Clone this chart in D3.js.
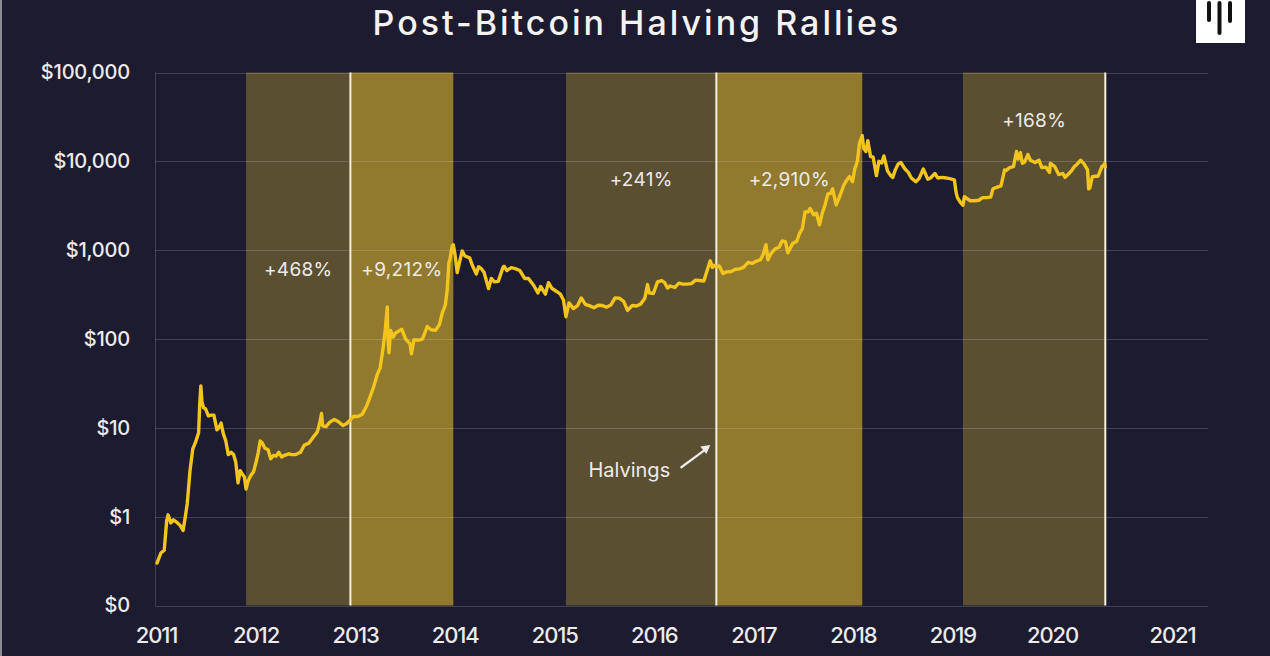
<!DOCTYPE html>
<html>
<head>
<meta charset="utf-8">
<script src="https://cdn.jsdelivr.net/npm/d3@7"></script>
<style>
html,body{margin:0;padding:0;background:#1d1b30;}
svg{display:block;}
</style>
</head>
<body>
<svg id="chart" width="1270" height="656"></svg>
<script>
// ---------- DATA ----------
const priceDates = [
"2011-01-01","2011-01-15","2011-01-27","2011-02-05","2011-02-10","2011-02-20","2011-03-01","2011-03-10","2011-03-25","2011-04-05","2011-04-12","2011-04-20","2011-04-30","2011-05-10","2011-05-20","2011-05-31","2011-06-04","2011-06-08","2011-06-12","2011-06-18","2011-06-25","2011-07-05","2011-07-15","2011-07-25","2011-08-05","2011-08-12","2011-08-20","2011-08-28","2011-09-06","2011-09-15","2011-09-25","2011-10-04","2011-10-12","2011-10-20","2011-10-28","2011-11-05","2011-11-12","2011-11-18","2011-11-25","2011-12-05","2011-12-15","2011-12-25",
"2012-01-01","2012-01-08","2012-01-15","2012-01-25","2012-02-05","2012-02-15","2012-02-25","2012-03-05","2012-03-15","2012-03-25","2012-04-05","2012-04-20","2012-05-01","2012-05-15","2012-06-01","2012-06-15","2012-07-01","2012-07-15","2012-08-01","2012-08-10","2012-08-16","2012-08-20","2012-09-01","2012-09-15","2012-10-01","2012-10-15","2012-11-01","2012-11-15","2012-11-28","2012-12-10","2012-12-25",
"2013-01-10","2013-01-25","2013-02-05","2013-02-20","2013-03-05","2013-03-15","2013-03-25","2013-04-03","2013-04-10","2013-04-12","2013-04-16","2013-04-22","2013-05-01","2013-05-10","2013-05-20","2013-06-01","2013-06-15","2013-07-01","2013-07-06","2013-07-15","2013-08-01","2013-08-15","2013-09-01","2013-09-15","2013-10-01","2013-10-15","2013-10-25","2013-11-05","2013-11-12","2013-11-18","2013-11-22","2013-11-30","2013-12-04","2013-12-10","2013-12-18","2013-12-25",
"2014-01-05","2014-01-15","2014-02-01","2014-02-10","2014-02-25","2014-03-05","2014-03-15","2014-03-25","2014-04-10","2014-04-20","2014-05-01","2014-05-15","2014-06-01","2014-06-05","2014-06-15","2014-07-01","2014-07-15","2014-08-01","2014-08-18","2014-09-01","2014-09-20","2014-10-05","2014-10-15","2014-11-01","2014-11-12","2014-11-25","2014-12-10","2014-12-25",
"2015-01-05","2015-01-14","2015-01-25","2015-02-10","2015-02-25","2015-03-10","2015-03-25","2015-04-10","2015-04-25","2015-05-10","2015-05-25","2015-06-10","2015-06-25","2015-07-10","2015-07-25","2015-08-10","2015-08-24","2015-09-10","2015-09-25","2015-10-10","2015-10-25","2015-11-04","2015-11-10","2015-11-25","2015-12-10","2015-12-25",
"2016-01-05","2016-01-15","2016-01-25","2016-02-10","2016-02-25","2016-03-10","2016-03-25","2016-04-10","2016-04-25","2016-05-10","2016-05-25","2016-06-05","2016-06-17","2016-06-25","2016-07-01","2016-07-09","2016-07-20","2016-08-02","2016-08-15","2016-09-01","2016-09-15","2016-10-01","2016-10-15","2016-11-01","2016-11-15","2016-12-01","2016-12-15","2016-12-25",
"2017-01-04","2017-01-11","2017-01-20","2017-02-05","2017-02-20","2017-03-03","2017-03-15","2017-03-24","2017-04-10","2017-04-25","2017-05-05","2017-05-15","2017-05-25","2017-06-05","2017-06-12","2017-06-25","2017-07-05","2017-07-16","2017-07-25","2017-08-05","2017-08-15","2017-08-25","2017-09-01","2017-09-14","2017-09-25","2017-10-12","2017-10-20","2017-11-01","2017-11-12","2017-11-20","2017-11-29","2017-12-07","2017-12-17","2017-12-22","2017-12-30",
"2018-01-06","2018-01-16","2018-01-25","2018-02-06","2018-02-15","2018-02-25","2018-03-05","2018-03-18","2018-03-30","2018-04-06","2018-04-15","2018-04-25","2018-05-05","2018-05-20","2018-06-01","2018-06-12","2018-06-28","2018-07-10","2018-07-25","2018-08-10","2018-08-20","2018-09-05","2018-09-15","2018-10-01","2018-10-15","2018-11-01","2018-11-14","2018-11-20","2018-11-25","2018-12-07","2018-12-15","2018-12-20","2018-12-30",
"2019-01-10","2019-01-25","2019-02-10","2019-02-24","2019-03-10","2019-03-25","2019-04-02","2019-04-15","2019-05-01","2019-05-14","2019-05-20","2019-06-01","2019-06-15","2019-06-26","2019-07-02","2019-07-10","2019-07-17","2019-07-25","2019-08-06","2019-08-15","2019-09-01","2019-09-15","2019-09-25","2019-10-10","2019-10-23","2019-10-26","2019-11-10","2019-11-25","2019-12-10","2019-12-18","2019-12-30",
"2020-01-10","2020-01-20","2020-02-01","2020-02-12","2020-02-25","2020-03-08","2020-03-12","2020-03-16","2020-03-25","2020-04-05","2020-04-15","2020-04-29","2020-05-05","2020-05-09","2020-05-11"
];
const priceValues = [
0.30,0.39,0.42,0.90,1.05,0.85,0.92,0.88,0.80,0.70,0.95,1.4,3.3,5.8,6.9,8.8,18.5,29.6,19.5,16.8,16.4,13.6,13.9,13.9,9.5,10.0,11.3,8.6,7.1,5.0,5.3,5.0,4.1,2.4,3.3,3.0,2.8,2.05,2.5,2.9,3.2,4.2,
5.3,7.1,6.8,5.9,5.7,4.5,4.9,4.8,5.3,4.7,4.9,5.1,5.0,5.0,5.3,6.4,6.7,7.7,9.0,11.5,14.5,10.5,10.3,11.6,12.4,11.8,10.6,11.2,12.35,13.5,13.4,
14.2,17.5,21.5,29,40,47,75,130,230,110,70,125,105,117,122,129,100,88,68,98,97,100,138,127,125,145,195,240,355,720,790,1120,1150,900,560,700,
980,860,820,680,540,650,620,560,370,480,440,445,640,660,590,635,620,590,480,480,400,330,390,320,430,370,345,320,
275,178,255,220,238,290,245,236,225,240,238,229,242,290,288,265,210,238,235,247,285,410,330,325,440,455,
430,375,395,380,425,415,415,420,460,455,450,580,760,640,675,650,665,545,570,575,608,615,640,730,710,755,780,900,
1150,780,895,1030,1080,1270,1250,935,1190,1260,1550,1750,2700,2700,2950,2500,2600,1930,2550,3250,4300,4350,4900,3230,3900,5450,6000,6750,5900,8200,9900,16000,19500,14000,12900,
17100,11300,11200,6900,10000,9600,11500,7800,6900,6600,8000,9300,9700,8200,7500,6500,5900,6400,8200,6300,6500,7300,6500,6600,6500,6350,6200,4500,3900,3400,3200,4000,3800,
3600,3600,3650,3900,3900,3950,4900,5100,5300,8000,7900,8500,8700,12900,10600,12500,9500,9800,11900,10300,9700,10300,8500,8600,7500,9500,8800,7100,7300,6600,7200,
7800,8700,9400,10300,9300,8000,4900,5000,6700,6800,6800,8800,9000,9500,8600
];
// shaded periods
const bandStarts = ["2011-11-18","2012-11-28","2015-01-14","2016-07-09","2018-12-15"];
const bandEnds   = ["2012-11-28","2013-12-04","2016-07-09","2017-12-17","2020-05-11"];
const bandKinds  = ["pre","post","pre","post","pre"];
const halvingDates = ["2012-11-28","2016-07-09","2020-05-11"];
const rallyLabels = ["+468%","+9,212%","+241%","+2,910%","+168%"];
const rallyLevels = [615,615,6200,6200,28600];
const yTicks = [0.1,1,10,100,1000,10000,100000];
const xTickYears = [2011,2012,2013,2014,2015,2016,2017,2018,2019,2020,2021];
const titleText = "Post-Bitcoin Halving Rallies";

// ---------- LAYOUT ----------
const W = 1270, H = 656;
const plotLeft = 155, plotRight = 1208, plotTop = 72.5, plotBottom = 605.5;
const parse = d3.timeParse("%Y-%m-%d");
const COLORS = {bg:"#1d1b30", pre:"#5b4f31", post:"#917a2e", line:"#f2c41c", grid:"rgba(255,255,255,0.16)", text:"#ecebea", halving:"#f4efdf"};

const svg = d3.select("#chart");
svg.append("rect").attr("width",W).attr("height",H).attr("fill",COLORS.bg);
svg.append("rect").attr("x",0).attr("y",0).attr("width",2).attr("height",H).attr("fill","#8d8c95");

const x = d3.scaleTime()
  .domain([parse("2011-01-01"), parse("2021-01-01")])
  .range([157, 1170.5]);
const y = d3.scaleLog().domain([0.1, 100000]).range([plotBottom, plotTop]);
// label placement scale for the year axis (labels in source are not exactly on Jan 1)
const xLabel = d3.scaleLinear().domain([2011, 2020, 2021]).range([156, 1052, 1172]);

// bands
const bands = bandStarts.map((s,i)=>({s:parse(s), e:parse(bandEnds[i]), k:bandKinds[i]}));
svg.append("g").selectAll("rect").data(bands).join("rect")
  .attr("x", d=>x(d.s)).attr("width", d=>x(d.e)-x(d.s))
  .attr("y", plotTop).attr("height", plotBottom-plotTop)
  .attr("fill", d=>COLORS[d.k]);

// grid
svg.append("g").selectAll("line").data(yTicks).join("line")
  .attr("x1", plotLeft).attr("x2", plotRight)
  .attr("y1", d=>Math.round(y(d))+0.5).attr("y2", d=>Math.round(y(d))+0.5)
  .attr("stroke", COLORS.grid).attr("stroke-width",1);
svg.append("line").attr("x1",plotLeft+0.5).attr("x2",plotLeft+0.5)
  .attr("y1",plotTop).attr("y2",plotBottom).attr("stroke",COLORS.grid);

// halving lines
svg.append("g").selectAll("line").data(halvingDates).join("line")
  .attr("x1", d=>x(parse(d))).attr("x2", d=>x(parse(d)))
  .attr("y1", plotTop).attr("y2", plotBottom)
  .attr("stroke", COLORS.halving).attr("stroke-width",2);

// price line
const series = priceDates.map((d,i)=>({d:parse(d), v:priceValues[i]}));
svg.append("path").datum(series)
  .attr("fill","none").attr("stroke",COLORS.line).attr("stroke-width",3.4)
  .attr("stroke-linejoin","round").attr("stroke-linecap","round")
  .attr("d", d3.line().x(p=>x(p.d)).y(p=>y(p.v)));

// axes
const fontFam = "Inter, 'Noto Sans', sans-serif";
const yAxis = svg.append("g").attr("transform",`translate(${plotLeft},0)`)
  .call(d3.axisLeft(y).tickValues(yTicks).tickSize(0).tickPadding(25)
    .tickFormat(v => v < 1 ? "$0" : "$" + d3.format(",")(v)));
yAxis.select(".domain").remove();
yAxis.selectAll("text").attr("fill",COLORS.text).style("font-family",fontFam)
  .style("font-size","20px").style("font-weight","500").style("letter-spacing","-0.2px");

const xAxis = svg.append("g").attr("transform",`translate(0,${plotBottom})`)
  .call(d3.axisBottom(xLabel).tickValues(xTickYears).tickSize(0).tickPadding(22).tickFormat(d3.format("d")));
xAxis.select(".domain").remove();
xAxis.selectAll("text").attr("fill",COLORS.text).style("font-family",fontFam)
  .style("font-size","22px").style("font-weight","500").style("letter-spacing","-1.1px");

// rally labels
svg.append("g").selectAll("text").data(bands).join("text")
  .attr("x", d=>(x(d.s)+x(d.e))/2)
  .attr("y", (d,i)=>y(rallyLevels[i]))
  .attr("text-anchor","middle").attr("dy","0.35em")
  .attr("fill",COLORS.text).style("font-family",fontFam).style("font-size","19px").style("letter-spacing","0.3px")
  .text((d,i)=>rallyLabels[i]);

// "Halvings" annotation
const hx = x(parse(halvingDates[1]));
svg.append("text").attr("x", hx-87).attr("y", y(3.36)).attr("text-anchor","middle").attr("dy","0.35em")
  .attr("fill",COLORS.text).style("font-family",fontFam).style("font-size","20px").text("Halvings");
svg.append("line").attr("x1",hx-35).attr("y1",y(3.6)).attr("x2",hx-10).attr("y2",y(5.8))
  .attr("stroke",COLORS.text).attr("stroke-width",2.2).attr("stroke-linecap","round");
svg.append("path").attr("fill",COLORS.text)
  .attr("d", `M${hx-6},${y(6.4)} L${hx-16},${y(6.4)+1.5} L${hx-10},${y(6.4)+9} Z`);

// title
svg.append("text").attr("x",637).attr("y",35).attr("text-anchor","middle")
  .attr("fill","#f4f3f1").style("font-family",fontFam).style("font-size","34px").style("font-weight","500")
  .style("letter-spacing","3px").text(titleText);

// logo
const logo = svg.append("g");
logo.append("rect").attr("x",1196).attr("y",0).attr("width",49).attr("height",43).attr("fill","#ffffff");
[[1209,3,20],[1219.5,3,33],[1230,3,21]].forEach(b=>{
  logo.append("line").attr("x1",b[0]).attr("x2",b[0]).attr("y1",b[1]).attr("y2",b[2])
    .attr("stroke","#111").attr("stroke-width",4).attr("stroke-linecap","round");
});
</script>
</body>
</html>
